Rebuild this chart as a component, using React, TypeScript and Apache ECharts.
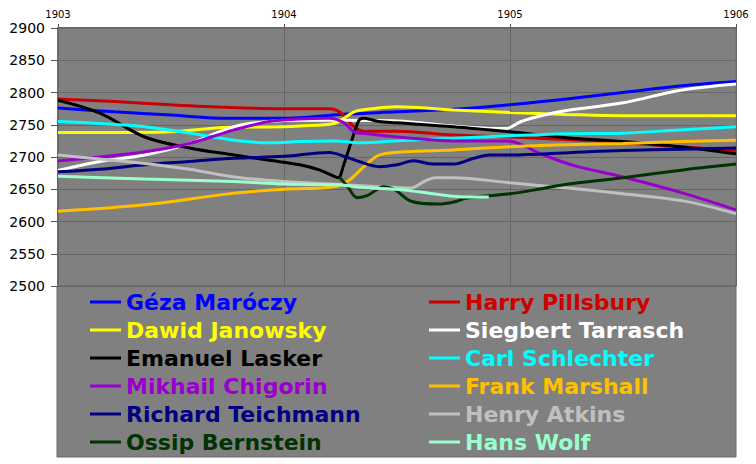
import React, { useEffect, useRef } from "react";
import * as echarts from "echarts";

// Year ticks and rating ticks
const yearTicks = [1903, 1904, 1905, 1906];
const ratingMin = 2500;
const ratingMax = 2900;

const names = [
  "Géza Maróczy",
  "Harry Pillsbury",
  "Dawid Janowsky",
  "Siegbert Tarrasch",
  "Emanuel Lasker",
  "Carl Schlechter",
  "Mikhail Chigorin",
  "Frank Marshall",
  "Richard Teichmann",
  "Henry Atkins",
  "Ossip Bernstein",
  "Hans Wolf",
];

const colors = [
  "#0000FF",
  "#CC0000",
  "#FFFF00",
  "#FFFFFF",
  "#000000",
  "#00FFFF",
  "#9900CC",
  "#FFC000",
  "#000080",
  "#C0C0C0",
  "#003300",
  "#99FFCC",
];

const maroczy = [
  [1903, 2776], [1903.25, 2770], [1903.5, 2765], [1903.75, 2760], [1904, 2760],
  [1904.25, 2766], [1904.5, 2770], [1904.75, 2774], [1905, 2781], [1905.25, 2790],
  [1905.5, 2800], [1905.75, 2810], [1906, 2817],
];
const pillsbury = [
  [1903, 2790], [1903.25, 2786], [1903.5, 2781], [1903.75, 2777], [1904, 2775],
  [1904.2, 2775], [1904.25, 2769], [1904.3, 2750], [1904.35, 2740], [1904.5, 2740],
  [1904.75, 2734], [1905, 2731], [1905.25, 2727], [1905.5, 2722], [1905.75, 2716], [1906, 2710],
];
const janowsky = [
  [1903, 2738], [1903.25, 2738], [1903.5, 2739], [1903.75, 2746], [1904, 2747],
  [1904.07, 2748], [1904.222, 2752], [1904.266, 2760], [1904.31, 2770], [1904.37, 2774],
  [1904.5, 2778], [1904.75, 2773], [1905, 2769], [1905.25, 2766], [1905.5, 2764], [1906, 2764],
];
const tarrasch = [
  [1903, 2679], [1903.185, 2693], [1903.384, 2703], [1903.582, 2721], [1903.78, 2747],
  [1903.935, 2755], [1904.07, 2757], [1904.266, 2757], [1904.5, 2756], [1904.75, 2748],
  [1904.98, 2744], [1905.05, 2755], [1905.15, 2765], [1905.25, 2772], [1905.5, 2784],
  [1905.75, 2803], [1906, 2813],
];
const lasker = [
  [1903, 2788], [1903.185, 2768], [1903.384, 2731], [1903.582, 2714], [1903.78, 2703],
  [1903.935, 2695], [1904.07, 2688], [1904.156, 2680], [1904.222, 2670], [1904.24, 2668],
  [1904.266, 2690], [1904.3, 2726], [1904.332, 2757], [1904.354, 2760], [1904.42, 2755],
  [1904.5, 2753], [1904.75, 2747], [1905, 2739], [1905.25, 2730], [1905.5, 2724],
  [1905.75, 2716], [1906, 2705],
];
const schlechter = [
  [1903, 2755], [1903.185, 2752], [1903.384, 2747], [1903.582, 2737], [1903.78, 2726],
  [1903.935, 2722], [1904.07, 2724], [1904.222, 2725], [1904.332, 2722], [1904.5, 2725],
  [1904.75, 2729], [1905, 2733], [1905.25, 2736], [1905.5, 2737], [1905.75, 2742], [1906, 2747],
];
const chigorin = [
  [1903, 2694], [1903.185, 2700], [1903.384, 2708], [1903.582, 2721], [1903.78, 2742],
  [1903.935, 2755], [1904.07, 2759], [1904.2, 2760], [1904.266, 2753], [1904.31, 2739],
  [1904.37, 2736], [1904.5, 2731], [1904.75, 2725], [1904.98, 2725], [1905.15, 2703],
  [1905.28, 2687], [1905.5, 2669], [1905.766, 2644], [1906, 2618],
];
const marshall = [
  [1903, 2616], [1903.384, 2626], [1903.78, 2644], [1904, 2650], [1904.222, 2654],
  [1904.288, 2664], [1904.354, 2685], [1904.42, 2703], [1904.53, 2708], [1904.75, 2711],
  [1905, 2716], [1905.25, 2719], [1905.5, 2721], [1905.766, 2724], [1906, 2726],
];
const teichmann = [
  [1903, 2677], [1903.185, 2681], [1903.384, 2688], [1903.582, 2693], [1903.78, 2698],
  [1904, 2701], [1904.2, 2707], [1904.266, 2701], [1904.332, 2693], [1904.42, 2685],
  [1904.5, 2688], [1904.575, 2694], [1904.66, 2689], [1904.75, 2689], [1904.84, 2698],
  [1904.91, 2703], [1905, 2703], [1905.28, 2707], [1905.5, 2710], [1905.766, 2712], [1906, 2714],
];
const atkins = [
  [1903, 2703], [1903.185, 2697], [1903.384, 2690], [1903.582, 2681], [1903.78, 2669],
  [1904, 2662], [1904.266, 2657], [1904.42, 2654], [1904.56, 2652], [1904.62, 2662],
  [1904.67, 2668], [1904.75, 2668], [1905, 2660], [1905.28, 2651], [1905.5, 2643],
  [1905.766, 2632], [1906, 2612],
];
const bernstein = [
  [1904.244, 2669], [1904.28, 2655], [1904.324, 2637], [1904.368, 2640], [1904.443, 2654],
  [1904.487, 2650], [1904.566, 2631], [1904.685, 2627], [1904.76, 2631], [1904.804, 2636],
  [1904.906, 2640], [1905, 2643], [1905.126, 2650], [1905.237, 2657], [1905.5, 2668],
  [1905.766, 2680], [1906, 2689],
];
const wolf = [
  [1903, 2670], [1903.384, 2666], [1903.78, 2662], [1904, 2658], [1904.244, 2657],
  [1904.332, 2653], [1904.53, 2649], [1904.66, 2643], [1904.81, 2638], [1904.906, 2638],
];

const seriesData = [
  maroczy, pillsbury, janowsky, tarrasch, lasker, schlechter,
  chigorin, marshall, teichmann, atkins, bernstein, wolf,
];

export default function App() {
  const ref = useRef<HTMLDivElement>(null);

  useEffect(() => {
    if (!ref.current) return;
    const chart = echarts.init(ref.current, null, { renderer: "svg" });

    const legendItem = (i: number) => ({
      name: names[i],
      icon: "rect",
      itemStyle: { color: colors[i] },
      textStyle: { color: colors[i] },
    });
    const leftIdx = [0, 2, 4, 6, 8, 10];
    const rightIdx = [1, 3, 5, 7, 9, 11];
    const legendCommon = {
      orient: "vertical",
      top: 291,
      itemGap: 6,
      itemWidth: 31,
      itemHeight: 3,
      selectedMode: false,
      textStyle: {
        fontSize: 22,
        fontWeight: "bold",
        fontFamily: "DejaVu Sans",
        padding: [0, 0, 0, 0],
      },
      padding: 0,
    };

    chart.setOption({
      animation: false,
      backgroundColor: "#ffffff",
      grid: {
        left: 58,
        right: 20,
        top: 28,
        bottom: 178,
        show: true,
        backgroundColor: "#808080",
        borderColor: "#6a6a6a",
        borderWidth: 1,
      },
      graphic: [
        {
          type: "rect",
          z: 0,
          shape: { x: 57, y: 286, width: 679, height: 171 },
          style: { fill: "#808080", stroke: "#6a6a6a", lineWidth: 1 },
        },
      ],
      xAxis: {
        type: "value",
        position: "top",
        min: yearTicks[0],
        max: yearTicks[yearTicks.length - 1],
        interval: 1,
        axisLine: { show: true, onZero: false, lineStyle: { color: "#6a6a6a", width: 2 } },
        axisTick: { show: true, length: 4, lineStyle: { color: "#555555" } },
        axisLabel: {
          formatter: (v: number) => String(v),
          fontSize: 10,
          color: "#000000",
          fontFamily: "DejaVu Sans",
          margin: 9,
        },
        splitLine: { show: true, lineStyle: { color: "#666666", width: 1 } },
      },
      yAxis: {
        type: "value",
        min: ratingMin,
        max: ratingMax,
        interval: 50,
        axisLine: { show: true, onZero: false, lineStyle: { color: "#6a6a6a", width: 2 } },
        axisTick: { show: true, length: 7, lineStyle: { color: "#555555" } },
        axisLabel: {
          formatter: (v: number) => String(v),
          fontSize: 14,
          color: "#000000",
          fontFamily: "DejaVu Sans",
          margin: 13,
        },
        splitLine: { show: true, lineStyle: { color: "#666666", width: 1 } },
      },
      legend: [
        { ...legendCommon, left: 90, data: leftIdx.map(legendItem) },
        { ...legendCommon, left: 429, data: rightIdx.map(legendItem) },
      ],
      series: names.map((name, i) => ({
        name,
        type: "line",
        data: seriesData[i],
        symbol: "none",
        showSymbol: false,
        smooth: 0.35,
        color: colors[i],
        lineStyle: { width: 3, color: colors[i] },
      })),
    });

    return () => chart.dispose();
  }, []);

  return (
    <div
      ref={ref}
      style={{ position: "fixed", left: 0, top: 0, width: 756, height: 464 }}
    />
  );
}
